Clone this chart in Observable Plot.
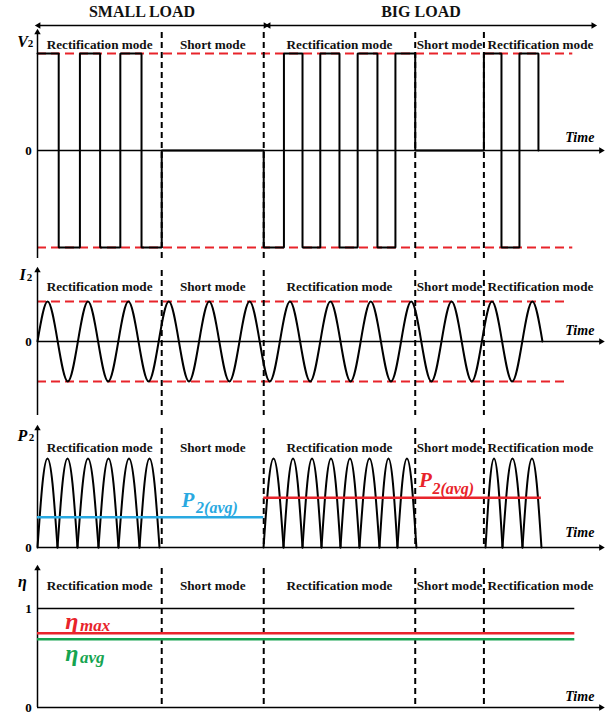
<!DOCTYPE html>
<html><head><meta charset="utf-8">
<script src="https://cdn.jsdelivr.net/npm/d3@7"></script>
<script src="https://cdn.jsdelivr.net/npm/@observablehq/plot@0.6"></script>
<style>
body{margin:0;background:#fff;}
#chart{width:615px;height:714px;overflow:hidden;}
#chart svg{display:block;}
</style></head><body><div id="chart"></div>
<script>
// ---------------- data (time in arbitrary units, one unit = half a period) ----------------
const loads = [
  {label: "SMALL LOAD", start: 0.05, end: 11.29},
  {label: "BIG LOAD", start: 11.44, end: 27.52}
];
const modeNames  = ["Rectification mode", "Short mode", "Rectification mode", "Short mode", "Rectification mode"];
const modeStarts = [0, 6.15, 11.2, 18.7, 22.1];
const modeEnds   = [6.15, 11.2, 18.7, 22.1, 27.7];
const modeBoundaries = [6.15, 11.2, 18.7, 22.1];

// V2 : square wave (step)
const v2Time  = [0, 1.05, 2.1, 3.1, 4.1, 5.15, 6.15, 11.2, 12.2, 13.12, 14.0, 14.95, 15.85, 16.83, 17.72, 18.7, 22.1, 22.97, 23.86, 24.8];
const v2Value = [1, -1, 1, -1, 1, -1, 0, -1, 1, -1, 1, -1, 1, -1, 1, 0, 1, -1, 1, 0];
const v2Limits = [1, -1];
const v2Ticks = [0];

// I2 : zero crossings and extrema of the sine
const i2Time = [0,0.5,1,1.5,2,2.5,3,3.5,4,4.5,5,5.5,6,6.5,7,7.5,8,8.5,9,9.5,10,10.5,11,11.5,12,12.5,13,13.5,14,14.5,15,15.5,16,16.5,17,17.5,18,18.5,19,19.5,20,20.5,21,21.5,22,22.5,23,23.5,24,24.5,25];
const i2Value = [0,1,0,-1,0,1,0,-1,0,1,0,-1,0,1,0,-1,0,1,0,-1,0,1,0,-1,0,1,0,-1,0,1,0,-1,0,1,0,-1,0,1,0,-1,0,1,0,-1,0,1,0,-1,0,1,0];
const i2Limits = [1, -1];
const i2Ticks = [0];

// P2 : arches (start / end of each pulse), relative arch profile read at 0, 1/4, 1/2, 3/4, 1 of a pulse
const p2ArchStart = [0, 0.99, 1.98, 3.02, 4.01, 5.05, 11.19, 12.18, 13.12, 14.06, 15.0, 15.94, 16.93, 17.82, 22.18, 23.02, 24.01];
const p2ArchEnd   = [0.99, 1.98, 3.02, 4.01, 5.05, 6.04, 12.18, 13.12, 14.06, 15.0, 15.94, 16.93, 17.82, 18.76, 23.02, 24.01, 24.95];
const p2ProfilePos = [0, 0.25, 0.5, 0.75, 1];
const p2ProfileVal = [0, 0.72, 1, 0.72, 0];
const p2AvgSmall = [{start: 0, end: 11.2, value: 0.34}];
const p2AvgBig   = [{start: 11.2, end: 24.95, value: 0.56}];
const p2Ticks = [0];

// eta
const etaIdeal = [{start: 0, end: 26.6, value: 1}];
const etaMax   = [{start: 0, end: 26.6, value: 0.75}];
const etaAvg   = [{start: 0, end: 26.6, value: 0.69}];
const etaTicks = [0, 1];

const timeAxisEnd = 27.9;

// ---------------- helpers ----------------
const SERIF = "'Liberation Serif', 'Times New Roman', serif";
const RED = "#e8242b", BLUE = "#29a9e1", GREEN = "#16a450";
const modes = modeNames.map((name, i) => ({name, mid: (modeStarts[i] + modeEnds[i]) / 2}));
const p2Rows = p2ArchStart.flatMap((s, i) => p2ProfilePos.map((f, j) => ({
  t: s + f * (p2ArchEnd[i] - s), p: p2ProfileVal[j], arch: i
})));

function commonMarks({labelDy, symbol, symDy, subDx, subDy, ticks, timeDy}) {
  return [
    Plot.ruleX(modeBoundaries, {stroke: "black", strokeWidth: 2, strokeDasharray: "6,4"}),
    Plot.ruleX([0], {stroke: "black", strokeWidth: 1.5}),
    Plot.dot([0], {x: d => d, frameAnchor: "top", symbol: "triangle", r: 2.4, fill: "black", stroke: "none"}),
    Plot.ruleY([0], {x1: 0, x2: timeAxisEnd, stroke: "black", strokeWidth: 1.5}),
    Plot.dot([timeAxisEnd], {x: d => d, y: 0, symbol: "triangle", rotate: 90, r: 2.4, fill: "black", stroke: "none"}),
    Plot.text(["Time"], {x: 26.85, y: 0, dy: timeDy, text: d => d, fontFamily: SERIF, fontStyle: "italic", fontWeight: "bold", fontSize: 14, fill: "black"}),
    Plot.text(modes, {x: "mid", frameAnchor: "top", dy: labelDy, text: "name", fontFamily: SERIF, fontWeight: "bold", fontSize: 13.2, fill: "#111"}),
    Plot.text(ticks, {x: 0, y: d => d, dx: -9, text: d => String(d), fontFamily: SERIF, fontWeight: "bold", fontSize: 13, fill: "black"}),
    Plot.text([symbol[0]], {x: 0, frameAnchor: "top", dx: -15, dy: symDy, text: d => d, fontFamily: SERIF, fontStyle: "italic", fontWeight: "bold", fontSize: 16, fill: "black"}),
    Plot.text(symbol[1] ? [symbol[1]] : [], {x: 0, frameAnchor: "top", dx: subDx, dy: subDy, text: d => d, fontFamily: SERIF, fontWeight: "bold", fontSize: 11, fill: "black"})
  ];
}

function panel({height, marginTop, marginBottom, yDomain, yRange, marks}) {
  return Plot.plot({
    width: 615, height, marginLeft: 37, marginRight: 10, marginTop, marginBottom,
    x: {domain: [0, 28.12], axis: null},
    y: {domain: yDomain, range: yRange, axis: null},
    style: {background: "transparent", overflow: "visible"},
    marks
  });
}

const root = document.getElementById("chart");

// header
root.append(panel({
  height: 28, marginTop: 0, marginBottom: 0, yDomain: [0, 1], yRange: [25, 12],
  marks: [
    Plot.ruleY(loads, {x1: "start", x2: "end", y: 0, stroke: "black", strokeWidth: 1.3}),
    Plot.dot(loads, {x: "start", y: 0, symbol: "triangle", rotate: -90, r: 2.4, fill: "black", stroke: "none"}),
    Plot.dot(loads, {x: "end", y: 0, symbol: "triangle", rotate: 90, r: 2.4, fill: "black", stroke: "none"}),
    Plot.text(loads, {x: d => (d.start + d.end) / 2, y: 1, dx: -10, dy: -1, text: "label", fontFamily: SERIF, fontWeight: "bold", fontSize: 16, fill: "#111"})
  ]
}));

// V2
root.append(panel({
  height: 236, marginTop: 4, marginBottom: 6, yDomain: [-1, 1], yRange: [219, 25],
  marks: [
    Plot.ruleY(v2Limits, {x1: 0, x2: 26.5, stroke: RED, strokeWidth: 2, strokeDasharray: "9,5"}),
    ...commonMarks({labelDy: 7, symbol: ["V", "2"], symDy: 3, subDx: -7, subDy: 7, ticks: v2Ticks, timeDy: -13}),
    Plot.line(v2Time.map((t, i) => ({t, v: v2Value[i]})), {x: "t", y: "v", curve: "step-after", stroke: "black", strokeWidth: 2, strokeLinejoin: "miter"})
  ]
}));

// I2
root.append(panel({
  height: 156, marginTop: 6, marginBottom: 5, yDomain: [-1, 1], yRange: [117, 37],
  marks: [
    Plot.ruleY(i2Limits, {x1: 0, x2: 26.3, stroke: RED, strokeWidth: 2, strokeDasharray: "9,5"}),
    ...commonMarks({labelDy: 11, symbol: ["I", "2"], symDy: -2, subDx: -8, subDy: 3, ticks: i2Ticks, timeDy: -11}),
    Plot.line(i2Time.map((t, i) => ({t, v: i2Value[i]})), {x: "t", y: "v", curve: "natural", stroke: "black", strokeWidth: 2})
  ]
}));

// P2
root.append(panel({
  height: 137, marginTop: 8, marginBottom: 10, yDomain: [0, 1], yRange: [127, 38],
  marks: [
    ...commonMarks({labelDy: 14, symbol: ["P", "2"], symDy: 1, subDx: -6, subDy: 5, ticks: p2Ticks, timeDy: -15}),
    Plot.line(p2Rows, {x: "t", y: "p", z: "arch", curve: "natural", stroke: "black", strokeWidth: 2}),
    Plot.ruleY(p2AvgSmall, {x1: "start", x2: "end", y: "value", stroke: BLUE, strokeWidth: 2.5}),
    Plot.ruleY(p2AvgBig, {x1: "start", x2: "end", y: "value", stroke: RED, strokeWidth: 2.5}),
    Plot.text(["P"], {x: 7.45, y: 0.53, text: d => d, fill: BLUE, fontFamily: SERIF, fontStyle: "italic", fontWeight: "bold", fontSize: 21}),
    Plot.text(["2(avg)"], {x: 7.85, y: 0.44, textAnchor: "start", text: d => d, fill: BLUE, fontFamily: SERIF, fontStyle: "italic", fontWeight: "bold", fontSize: 16}),
    Plot.text(["P"], {x: 19.2, y: 0.75, text: d => d, fill: RED, fontFamily: SERIF, fontStyle: "italic", fontWeight: "bold", fontSize: 21}),
    Plot.text(["2(avg)"], {x: 19.55, y: 0.66, textAnchor: "start", text: d => d, fill: RED, fontFamily: SERIF, fontStyle: "italic", fontWeight: "bold", fontSize: 16})
  ]
}));

// eta
root.append(panel({
  height: 157, marginTop: 11, marginBottom: 7, yDomain: [0, 1], yRange: [150, 51],
  marks: [
    ...commonMarks({labelDy: 12, symbol: ["η", ""], symDy: 7, subDx: 0, subDy: 0, ticks: etaTicks, timeDy: -11}),
    Plot.ruleY(etaIdeal, {x1: "start", x2: "end", y: "value", stroke: "black", strokeWidth: 1.5}),
    Plot.ruleY(etaMax, {x1: "start", x2: "end", y: "value", stroke: RED, strokeWidth: 2.5}),
    Plot.ruleY(etaAvg, {x1: "start", x2: "end", y: "value", stroke: GREEN, strokeWidth: 2.5}),
    Plot.text(["η"], {x: 1.7, y: 0.87, text: d => d, fill: RED, fontFamily: SERIF, fontStyle: "italic", fontWeight: "bold", fontSize: 24}),
    Plot.text(["max"], {x: 2.1, y: 0.83, textAnchor: "start", text: d => d, fill: RED, fontFamily: SERIF, fontStyle: "italic", fontWeight: "bold", fontSize: 17}),
    Plot.text(["η"], {x: 1.7, y: 0.55, text: d => d, fill: GREEN, fontFamily: SERIF, fontStyle: "italic", fontWeight: "bold", fontSize: 24}),
    Plot.text(["avg"], {x: 2.1, y: 0.5, textAnchor: "start", text: d => d, fill: GREEN, fontFamily: SERIF, fontStyle: "italic", fontWeight: "bold", fontSize: 17})
  ]
}));
</script></body></html>
